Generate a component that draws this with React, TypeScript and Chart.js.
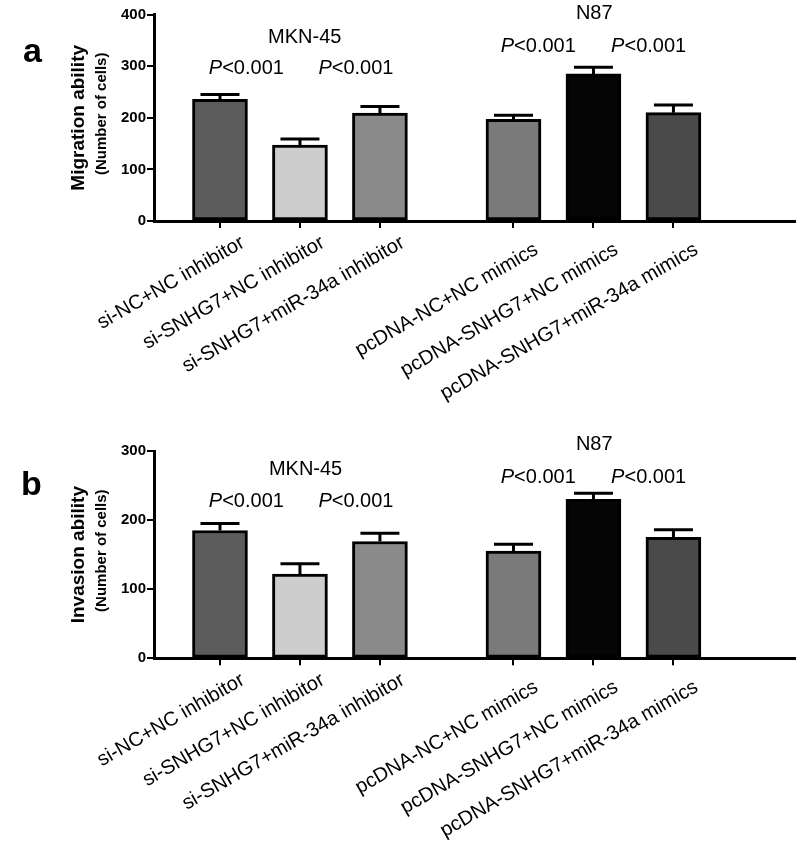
import React, { useEffect, useRef } from "react";
import { Chart, registerables } from "chart.js";

Chart.register(...registerables);

const FONT = '"Liberation Sans", Arial, Helvetica, sans-serif';

// ---------- data ----------
const categories = [
  "si-NC+NC inhibitor",
  "si-SNHG7+NC inhibitor",
  "si-SNHG7+miR-34a inhibitor",
  "pcDNA-NC+NC mimics",
  "pcDNA-SNHG7+NC mimics",
  "pcDNA-SNHG7+miR-34a mimics",
];
const groupOfCategory = [0, 0, 0, 1, 1, 1];
const cellLines = ["MKN-45", "N87"];
const pValueText = "<0.001";

const migrationMean = [236, 147, 209, 197, 285, 210];
const migrationErr = [9, 12, 13, 8, 13, 15];
const migrationTicks = [0, 100, 200, 300, 400];

const invasionMean = [185, 122, 169, 155, 230, 175];
const invasionErr = [10, 15, 12, 10, 9, 11];
const invasionTicks = [0, 100, 200, 300];

const barColors = ["#5c5c5c", "#cdcdcd", "#8a8a8a", "#7a7a7a", "#050505", "#4a4a4a"];

// ---------- layout constants ----------
const GROUP_GAP = 0.67;
const X_MIN = -0.825;
const X_MAX = 7.19;
const xPositions = categories.map((_, i) => i + groupOfCategory[i] * GROUP_GAP);

type Panel = {
  letter: string;
  title: string;
  subtitle: string;
  means: number[];
  errs: number[];
  ticks: number[];
  height: number;
  padTop: number;
  xAxisHeight: number;
  letterY: number;
  groupLabelPos: { x: number; y: number }[];
  pPos: { x: number; y: number }[];
};

const panels: Panel[] = [
  {
    letter: "a",
    title: "Migration ability",
    subtitle: "(Number of cells)",
    means: migrationMean,
    errs: migrationErr,
    ticks: migrationTicks,
    height: 430,
    padTop: 14.6,
    xAxisHeight: 209,
    letterY: 62,
    groupLabelPos: [
      { x: 1.06, y: 345 },
      { x: 4.68, y: 392 },
    ],
    pPos: [
      { x: 0.33, y: 285 },
      { x: 1.7, y: 285 },
      { x: 3.98, y: 327.5 },
      { x: 5.36, y: 327.5 },
    ],
  },
  {
    letter: "b",
    title: "Invasion ability",
    subtitle: "(Number of cells)",
    means: invasionMean,
    errs: invasionErr,
    ticks: invasionTicks,
    height: 419,
    padTop: 21,
    xAxisHeight: 190.7,
    letterY: 65,
    groupLabelPos: [
      { x: 1.07, y: 265 },
      { x: 4.68, y: 301 },
    ],
    pPos: [
      { x: 0.33, y: 219 },
      { x: 1.7, y: 219 },
      { x: 3.98, y: 254 },
      { x: 5.36, y: 254 },
    ],
  },
];

function makePlugin(p: Panel) {
  return {
    id: "decor_" + p.letter,
    afterDatasetsDraw(chart: any) {
      const ctx = chart.ctx;
      const meta = chart.getDatasetMeta(0);
      const ys = chart.scales.y;
      ctx.save();
      ctx.strokeStyle = "#000";
      ctx.lineWidth = 3;
      ctx.lineCap = "butt";
      meta.data.forEach((el: any, i: number) => {
        const top = ys.getPixelForValue(p.means[i]);
        const et = ys.getPixelForValue(p.means[i] + p.errs[i]);
        ctx.beginPath();
        ctx.moveTo(el.x, top);
        ctx.lineTo(el.x, et);
        ctx.moveTo(el.x - 19.5, et);
        ctx.lineTo(el.x + 19.5, et);
        ctx.stroke();
      });
      ctx.restore();
    },
    afterDraw(chart: any) {
      const ctx = chart.ctx;
      const xs = chart.scales.x;
      const ys = chart.scales.y;
      const area = chart.chartArea;
      ctx.save();
      ctx.fillStyle = "#000";
      // panel letter
      ctx.font = `bold 34px ${FONT}`;
      ctx.textAlign = "left";
      ctx.textBaseline = "alphabetic";
      ctx.fillText(p.letter, p.letter === "a" ? 23 : 21, p.letterY);
      // y titles
      const cy = (area.top + area.bottom) / 2;
      ctx.save();
      ctx.translate(84, cy);
      ctx.rotate(-Math.PI / 2);
      ctx.textAlign = "center";
      ctx.font = `bold 19px ${FONT}`;
      ctx.fillText(p.title, 0, 0);
      ctx.restore();
      ctx.save();
      ctx.translate(106, cy - 4);
      ctx.rotate(-Math.PI / 2);
      ctx.textAlign = "center";
      ctx.font = `bold 15px ${FONT}`;
      ctx.fillText(p.subtitle, 0, 0);
      ctx.restore();
      // cell line labels
      ctx.font = `20px ${FONT}`;
      ctx.textAlign = "center";
      cellLines.forEach((name, g) => {
        const pos = p.groupLabelPos[g];
        ctx.fillText(name, xs.getPixelForValue(pos.x), ys.getPixelForValue(pos.y));
      });
      // P labels
      p.pPos.forEach((pos) => {
        ctx.font = `italic 20px ${FONT}`;
        const wP = ctx.measureText("P").width;
        ctx.font = `20px ${FONT}`;
        const wR = ctx.measureText(pValueText).width;
        const cx = xs.getPixelForValue(pos.x);
        const y = ys.getPixelForValue(pos.y);
        const left = cx - (wP + wR) / 2;
        ctx.textAlign = "left";
        ctx.font = `italic 20px ${FONT}`;
        ctx.fillText("P", left, y);
        ctx.font = `20px ${FONT}`;
        ctx.fillText(pValueText, left + wP, y);
      });
      ctx.restore();
    },
  };
}

function makeConfig(p: Panel): any {
  return {
    type: "bar",
    data: {
      datasets: [
        {
          data: xPositions.map((x, i) => ({ x, y: p.means[i] })),
          backgroundColor: barColors,
          borderColor: "#000",
          borderWidth: 3,
          borderSkipped: false,
          barThickness: 55,
        },
      ],
    },
    options: {
      animation: false,
      responsive: false,
      maintainAspectRatio: false,
      layout: { padding: { top: p.padTop, right: 5, left: 0, bottom: 0 } },
      plugins: { legend: { display: false }, tooltip: { enabled: false } },
      scales: {
        x: {
          type: "linear",
          min: X_MIN,
          max: X_MAX,
          offset: false,
          afterBuildTicks: (s: any) => {
            s.ticks = xPositions.map((v) => ({ value: v }));
          },
          afterFit: (s: any) => {
            s.height = p.xAxisHeight;
          },
          grid: {
            display: true,
            offset: false,
            drawOnChartArea: false,
            drawTicks: true,
            tickLength: 7,
            color: "#000",
            lineWidth: 2,
          },
          border: { display: true, color: "#000", width: 3 },
          ticks: {
            autoSkip: false,
            minRotation: 30,
            maxRotation: 30,
            labelOffset: 23,
            padding: 3,
            color: "#000",
            font: (c: any) => ({
              family: FONT,
              size: 20,
              lineHeight: groupOfCategory[c.index] === 1 ? "40px" : "24px",
            }),
            callback: (_v: any, i: number) => categories[i],
          },
        },
        y: {
          min: 0,
          max: p.ticks[p.ticks.length - 1],
          afterBuildTicks: (s: any) => {
            s.ticks = p.ticks.map((v) => ({ value: v }));
          },
          afterFit: (s: any) => {
            s.width = 154;
          },
          grid: {
            display: true,
            drawOnChartArea: false,
            drawTicks: true,
            tickLength: 7,
            color: "#000",
            lineWidth: 2,
          },
          border: { display: true, color: "#000", width: 3 },
          ticks: {
            color: "#000",
            padding: 1,
            font: { family: FONT, size: 15, weight: "bold" },
          },
        },
      },
    },
    plugins: [makePlugin(p)],
  };
}

function PanelChart({ p }: { p: Panel }) {
  const ref = useRef<HTMLCanvasElement | null>(null);
  useEffect(() => {
    if (!ref.current) return;
    const chart = new Chart(ref.current, makeConfig(p));
    return () => chart.destroy();
  }, [p]);
  return (
    <canvas
      ref={ref}
      width={800}
      height={p.height}
      style={{ display: "block", width: 800, height: p.height }}
    />
  );
}

export default function App() {
  return (
    <div
      style={{
        position: "fixed",
        left: 0,
        top: 0,
        width: 800,
        height: 849,
        background: "#fff",
        overflow: "hidden",
      }}
    >
      {panels.map((p) => (
        <PanelChart key={p.letter} p={p} />
      ))}
    </div>
  );
}
